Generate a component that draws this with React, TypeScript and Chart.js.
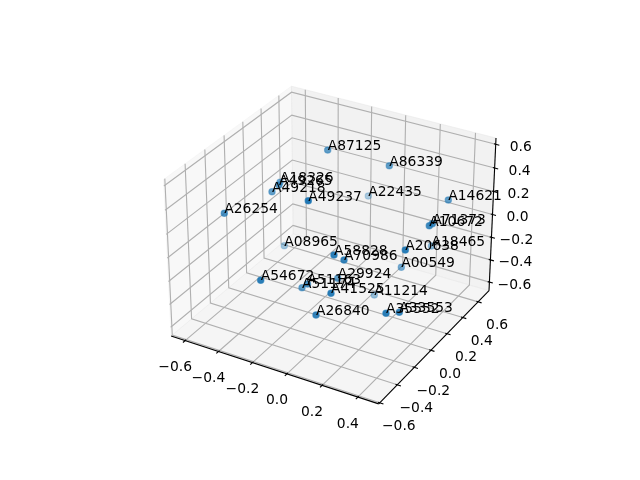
import React, { useEffect, useRef } from "react";
import { Chart, registerables } from "chart.js";

Chart.register(...registerables);

const pointLabels = ["A87125","A86339","A18326","A49265","A49218","A49237","A22435","A14621","A26254","A71373","A10672","A08965","A18465","A20638","A58828","A70986","A00549","A54672","A29924","A51163","A51174","A41525","A11214","A26840","A35552","A33553"];
const pointX = [327.7,389.3,280,279,272,308.3,368.3,448.3,224.3,432.3,429.3,284.3,431.5,405.3,334,344,401.3,260.7,337.7,307.5,302,331,374.3,316,386,399.3];
const pointY = [150,165.7,182.3,185,191.7,200.7,196,200,213.3,223.7,225.7,245.7,246,250,255,260,267.3,280.3,278.3,284,287.7,293.3,295,315,313.3,312.3];
const pointAlpha = [0.7,0.7,0.6,0.7,0.7,1,0.35,0.7,0.8,0.85,0.85,0.4,0.5,0.95,0.95,0.9,0.6,0.95,0.7,0.8,0.7,0.95,0.45,0.9,0.95,0.9];

const xTicks = [-0.6,-0.4,-0.2,0.0,0.2,0.4];
const yTicks = [-0.6,-0.4,-0.2,0.0,0.2,0.4,0.6];
const zTicks = [-0.6,-0.4,-0.2,0.0,0.2,0.4,0.6];
const xRange = [-0.685,0.515];
const yRange = [-0.612,0.745];
const zRange = [-0.678,0.652];

const FONT = '13.89px "DejaVu Sans"';
const GRID = "rgb(176,176,176)";

const boxAspect = [4,4,3].map((a) => (a * 1.8294640721620434 * 25 / 24) / Math.hypot(4,4,3));
const el = Math.PI / 6;
const az = -Math.PI / 3;
const w = [Math.cos(el)*Math.cos(az), Math.cos(el)*Math.sin(az), Math.sin(el)];
const u = [-w[1], w[0], 0].map((c) => c / Math.hypot(w[0], w[1]));
const v = [w[1]*u[2]-w[2]*u[1], w[2]*u[0]-w[0]*u[2], w[0]*u[1]-w[1]*u[0]];

function project(x: number, y: number, z: number) {
  const p = [
    ((x-xRange[0])/(xRange[1]-xRange[0])-0.5)*boxAspect[0],
    ((y-yRange[0])/(yRange[1]-yRange[0])-0.5)*boxAspect[1],
    ((z-zRange[0])/(zRange[1]-zRange[0])-0.5)*boxAspect[2],
  ];
  const dot = (a: number[]) => a[0]*p[0]+a[1]*p[1]+a[2]*p[2];
  const depth = 10 - dot(w);
  const X = dot(u)/depth;
  const Y = dot(v)/depth;
  return { x: 143.2+(X+0.095)/0.185*369.6, y: 427.2-(Y+0.095)/0.185*369.6 };
}

const [x0,x1] = xRange, [y0,y1] = yRange, [z0,z1] = zRange;
const xd = (x1-x0)/12, yd = (y1-y0)/12;

function poly(pts: number[][], color: string, width: number, fill?: string) {
  return {
    type: "line" as const,
    data: pts.map((p) => project(p[0],p[1],p[2])),
    borderColor: color,
    borderWidth: width,
    backgroundColor: fill ?? "transparent",
    fill: fill ? "shape" : false,
    pointRadius: 0,
    tension: 0,
    clip: false,
  };
}

function buildDatasets() {
  const under: any[] = [
    poly([[x0,y0,z0],[x0,y1,z0],[x0,y1,z1],[x0,y0,z1],[x0,y0,z0]], "rgba(242,242,242,0.5)", 1, "rgba(242,242,242,0.5)"),
    poly([[x0,y1,z0],[x1,y1,z0],[x1,y1,z1],[x0,y1,z1],[x0,y1,z0]], "rgba(230,230,230,0.5)", 1, "rgba(230,230,230,0.5)"),
    poly([[x0,y0,z0],[x1,y0,z0],[x1,y1,z0],[x0,y1,z0],[x0,y0,z0]], "rgba(236,236,236,0.5)", 1, "rgba(236,236,236,0.5)"),
  ];
  xTicks.forEach((t) => under.push(poly([[t,y0,z0],[t,y1,z0],[t,y1,z1]], GRID, 1.11)));
  yTicks.forEach((t) => under.push(poly([[x1,t,z0],[x0,t,z0],[x0,t,z1]], GRID, 1.11)));
  zTicks.forEach((t) => under.push(poly([[x0,y0,t],[x0,y1,t],[x1,y1,t]], GRID, 1.11)));
  under.push(poly([[x0,y0,z0],[x1,y0,z0]], "#000", 1.11));
  under.push(poly([[x1,y0,z0],[x1,y1,z0]], "#000", 1.11));
  under.push(poly([[x1,y1,z0],[x1,y1,z1]], "#000", 1.11));
  xTicks.forEach((t) => under.push(poly([[t,y0+yd*0.1,z0],[t,y0-yd*0.2,z0]], "#000", 1.11)));
  yTicks.forEach((t) => under.push(poly([[x1-xd*0.1,t,z0],[x1+xd*0.2,t,z0]], "#000", 1.11)));
  zTicks.forEach((t) => under.push(poly([[x1-xd*0.1,y1,t],[x1+xd*0.2,y1,t]], "#000", 1.11)));
  const scatter = {
    type: "scatter" as const,
    data: pointX.map((x,i) => ({ x, y: pointY[i] })),
    backgroundColor: pointAlpha.map((a) => `rgba(31,119,180,${a})`),
    borderColor: pointAlpha.map((a) => `rgba(31,119,180,${a*0.6})`),
    borderWidth: 1.2,
    pointRadius: 3.2,
    clip: false,
  };
  const all = [...under, scatter];
  return all.map((d,i) => ({ ...d, order: all.length - i }));
}

const textPlugin = {
  id: "texts",
  afterDatasetsDraw(chart: any) {
    const { ctx, scales } = chart;
    ctx.save();
    ctx.font = FONT;
    ctx.fillStyle = "#000";
    const fmt = (t: number) => (t < 0 ? "\u2212" : "") + Math.abs(t).toFixed(1);
    const put = (p: {x:number,y:number}, s: string, dx: number, dy: number) =>
      ctx.fillText(s, scales.x.getPixelForValue(p.x)+dx, scales.y.getPixelForValue(p.y)+dy);
    ctx.textAlign = "center";
    ctx.textBaseline = "middle";
    xTicks.forEach((t) => put(project(t,y0,z0), fmt(t), -10, 27));
    yTicks.forEach((t) => put(project(x1,t,z0), fmt(t), 19, 24));
    zTicks.forEach((t) => put(project(x1,y1,t), fmt(t), 25, 3));
    ctx.textAlign = "left";
    ctx.textBaseline = "alphabetic";
    pointLabels.forEach((s,i) => put({ x: pointX[i], y: pointY[i] }, s, 0, 0));
    ctx.restore();
  },
};

export default function App() {
  const ref = useRef<HTMLCanvasElement>(null);
  useEffect(() => {
    const chart = new Chart(ref.current!, {
      type: "scatter",
      data: { datasets: buildDatasets() as any },
      options: {
        animation: false,
        responsive: false,
        layout: { padding: 0, autoPadding: false },
        plugins: { legend: { display: false }, tooltip: { enabled: false } },
        scales: {
          x: { type: "linear", display: false, min: 0, max: 640 },
          y: { type: "linear", display: false, min: 0, max: 480, reverse: true },
        },
      },
      plugins: [textPlugin],
    });
    return () => chart.destroy();
  }, []);
  return <canvas ref={ref} width={640} height={480} style={{ position: "absolute", left: 0, top: 0, display: "block" }} />;
}
